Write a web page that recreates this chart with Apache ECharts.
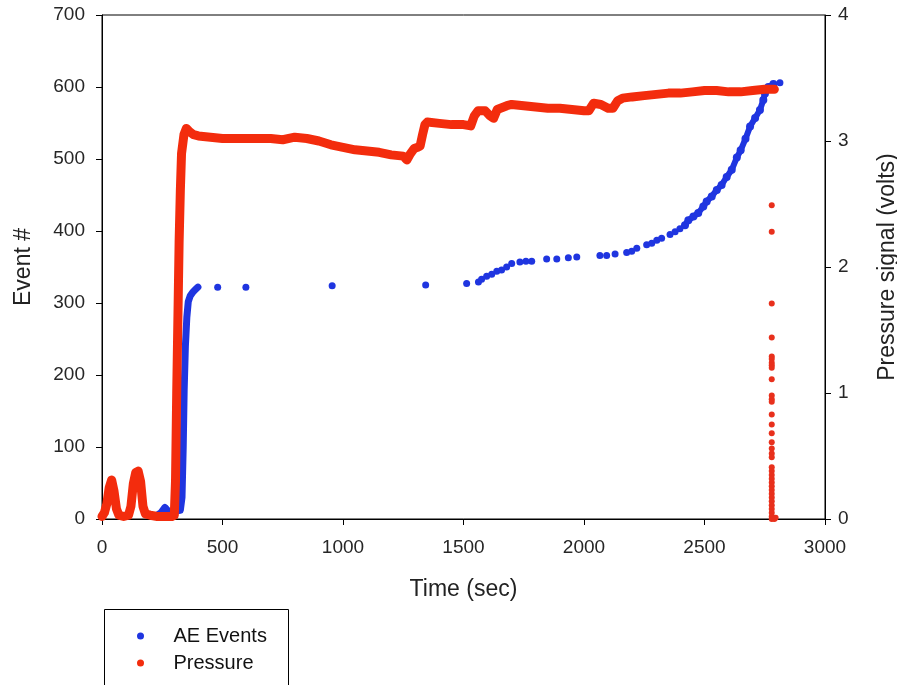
<!DOCTYPE html>
<html>
<head>
<meta charset="utf-8">
<script src="https://cdn.jsdelivr.net/npm/echarts@6/dist/echarts.min.js"></script>
<style>
html,body{margin:0;padding:0;background:#fff;}
#chart{width:897px;height:685px;}
</style>
</head>
<body>
<div id="chart"></div>
<script>
// ---- Data (time in sec) ----
var xTicks = [0, 500, 1000, 1500, 2000, 2500, 3000];
var leftTicks = [0, 100, 200, 300, 400, 500, 600, 700];
var rightTicks = [0, 1, 2, 3, 4];

// AE events: dense early rise (cumulative event #)
var aeRise = [[228,5],[245,9],[261,16],[272,12],[285,10],[305,11],[325,12],[332,30],[337,100],[341,180],[346,240],[352,280],[358,302],[366,310],[377,315],[388,319],[398,322]];
// AE events: isolated dots
var aeDots = [[480,322],[597,322],[955,324],[1343,325],[1513,327],[1562,329],[1575,333],[1596,337],[1617,340],[1638,344],[1658,346],[1679,350],[1700,355],[1734,357],[1759,358],[1783,358],[1845,361],[1887,361],[1935,363],[1970,364],[2066,366],[2094,366],[2129,368],[2177,370],[2198,372],[2219,376],[2260,381],[2281,383],[2302,387],[2322,390],[2357,395],[2378,399],[2398,403],[2813,606]];
// AE events: dense late tail
var aeTail = [[2419,408],[2433,415],[2454,420],[2474,425],[2495,434],[2509,441],[2530,448],[2551,457],[2571,464],[2592,475],[2613,485],[2634,502],[2650,512],[2670,528],[2689,545],[2710,557],[2730,568],[2744,582],[2751,591],[2765,600],[2786,604]];

// Pressure signal (volts): continuous trace
var pressureTrace = [[0,0.02],[10,0.05],[20,0.12],[30,0.25],[40,0.31],[50,0.22],[60,0.08],[70,0.03],[90,0.02],[110,0.03],[120,0.10],[130,0.28],[140,0.37],[150,0.38],[160,0.30],[170,0.10],[180,0.04],[200,0.03],[230,0.02],[260,0.02],[290,0.02],[300,0.03],[305,0.30],[310,1.00],[315,1.60],[320,2.20],[325,2.60],[330,2.90],[340,3.05],[350,3.10],[360,3.08],[380,3.05],[400,3.04],[450,3.03],[500,3.02],[550,3.02],[600,3.02],[650,3.02],[700,3.02],[750,3.01],[800,3.03],[850,3.02],[900,3.00],[950,2.97],[1000,2.95],[1050,2.93],[1100,2.92],[1150,2.91],[1200,2.89],[1250,2.88],[1265,2.85],[1280,2.90],[1295,2.94],[1310,2.95],[1320,2.96],[1330,3.05],[1340,3.13],[1350,3.15],[1400,3.14],[1450,3.13],[1500,3.13],[1530,3.12],[1545,3.20],[1560,3.24],[1590,3.24],[1610,3.20],[1625,3.18],[1640,3.25],[1680,3.28],[1700,3.29],[1750,3.28],[1800,3.27],[1850,3.26],[1900,3.26],[1950,3.25],[2000,3.24],[2020,3.24],[2040,3.30],[2070,3.29],[2100,3.26],[2120,3.26],[2140,3.32],[2160,3.34],[2200,3.35],[2250,3.36],[2300,3.37],[2350,3.38],[2400,3.38],[2450,3.39],[2500,3.40],[2550,3.40],[2600,3.39],[2650,3.39],[2700,3.40],[2750,3.41],[2790,3.41]];
// Pressure signal: drop-off points at end of test
var pressureDrop = [[2779,2.49],[2779,2.28],[2779,1.71],[2779,1.44],[2779,1.29],[2779,1.27],[2779,1.24],[2779,1.22],[2779,1.20],[2779,1.11],[2779,0.98],[2779,0.95],[2779,0.93],[2779,0.83],[2779,0.75],[2779,0.68],[2779,0.61],[2779,0.56],[2779,0.52],[2779,0.49],[2779,0.41],[2779,0.38],[2779,0.35],[2779,0.32],[2779,0.29],[2779,0.26],[2779,0.23],[2779,0.20],[2779,0.17],[2779,0.14],[2779,0.11],[2779,0.08],[2779,0.05],[2779,0.02],[2779,0.00],[2785,0.01],[2790,0.00],[2795,0.01]];

var BLUE = '#1f35e0';
var RED = '#f32c0d';
var FONT = 'Liberation Sans';

var chart = echarts.init(document.getElementById('chart'), null, {renderer: 'canvas'});
var plain = function (v) { return String(v); };
var axisCommon = {
  axisLine: {show: true, lineStyle: {color: '#000', width: 1}},
  axisTick: {show: true, inside: false, length: 6, lineStyle: {color: '#000'}},
  splitLine: {show: false},
  nameTextStyle: {fontFamily: FONT, fontSize: 23, color: '#222'}
};
var labelStyle = function (m) {
  return {fontFamily: FONT, fontSize: 19, color: '#262626', margin: m, formatter: plain};
};
chart.setOption({
  animation: false,
  backgroundColor: '#fff',
  grid: {left: 102, right: 72, top: 15, bottom: 166, show: true, borderColor: '#000', borderWidth: 1,
         containLabel: false, outerBoundsMode: 'none'},
  xAxis: Object.assign({}, axisCommon, {
    type: 'value', min: xTicks[0], max: xTicks[xTicks.length - 1], interval: xTicks[1] - xTicks[0],
    name: 'Time (sec)', nameLocation: 'middle', nameGap: 59,
    axisLabel: labelStyle(19)
  }),
  yAxis: [
    Object.assign({}, axisCommon, {
      type: 'value', position: 'left', min: leftTicks[0], max: leftTicks[leftTicks.length - 1], interval: leftTicks[1] - leftTicks[0],
      name: 'Event #', nameLocation: 'middle', nameRotate: 90, nameGap: 67,
      axisLabel: labelStyle(17)
    }),
    Object.assign({}, axisCommon, {
      type: 'value', position: 'right', min: rightTicks[0], max: rightTicks[rightTicks.length - 1], interval: rightTicks[1] - rightTicks[0],
      name: 'Pressure signal (volts)', nameLocation: 'middle', nameRotate: 90, nameGap: 51,
      axisLabel: labelStyle(13)
    })
  ],
  legend: {
    left: 132, top: 621, orient: 'vertical', itemWidth: 56, itemHeight: 7, itemGap: 7,
    textStyle: {fontFamily: FONT, fontSize: 20, color: '#111'},
    data: [{name: 'AE Events', icon: 'circle'}, {name: 'Pressure', icon: 'circle'}]
  },
  graphic: [{
    type: 'rect', shape: {x: 104.5, y: 609.5, width: 184, height: 100},
    style: {fill: 'none', stroke: '#000', lineWidth: 1}, silent: true
  }],
  series: [
    {name: 'Pressure', type: 'line', yAxisIndex: 1, data: pressureTrace, showSymbol: false,
     lineStyle: {color: RED, width: 9, cap: 'round', join: 'round'}, itemStyle: {color: RED}, z: 3},
    {name: 'Pressure', type: 'scatter', yAxisIndex: 1, data: pressureDrop, symbolSize: 6,
     itemStyle: {color: '#e8301c', opacity: 1}, z: 3},
    {name: 'AE Events', type: 'line', yAxisIndex: 0, data: aeRise, showSymbol: false,
     lineStyle: {color: BLUE, width: 7, cap: 'round', join: 'round'}, itemStyle: {color: BLUE}, z: 2},
    {name: 'AE Events', type: 'line', yAxisIndex: 0, data: aeTail, showSymbol: true, showAllSymbol: true, symbol: 'circle', symbolSize: 8,
     lineStyle: {color: BLUE, width: 6, cap: 'round', join: 'round'}, itemStyle: {color: BLUE, borderWidth: 0}, z: 2},
    {name: 'AE Events', type: 'scatter', yAxisIndex: 0, data: aeDots, symbolSize: 7,
     itemStyle: {color: BLUE, opacity: 1}, z: 2}
  ]
});
</script>
</body>
</html>
